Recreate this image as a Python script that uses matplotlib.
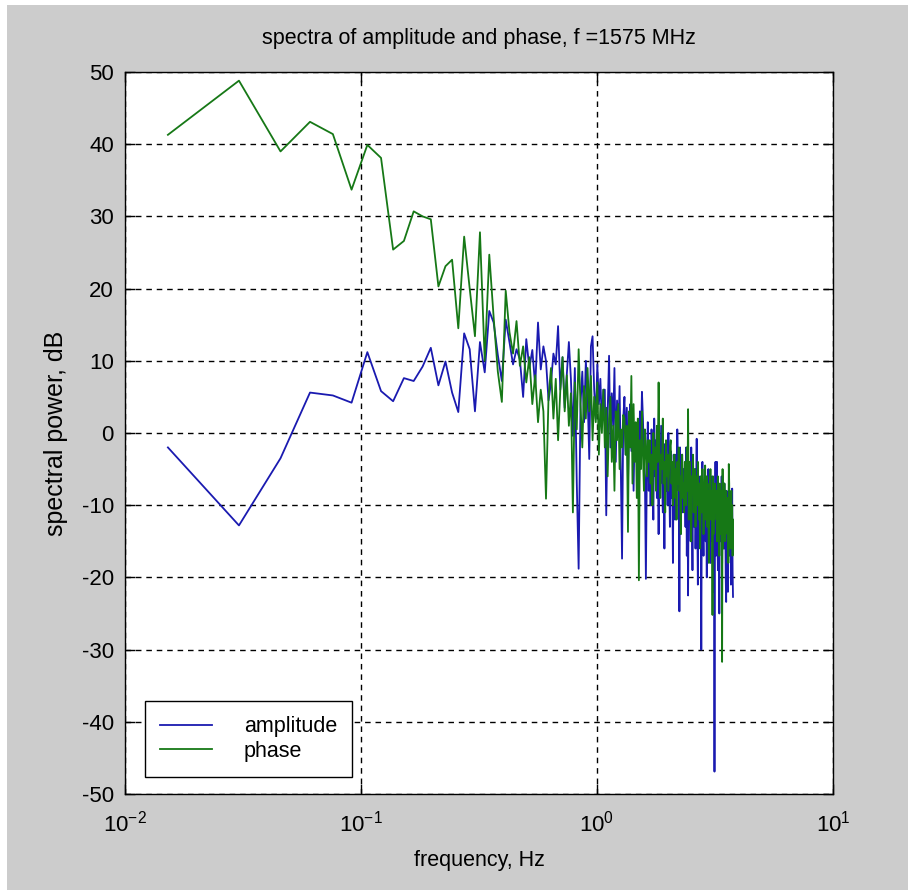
import numpy as np
import matplotlib
matplotlib.use("Agg")
import matplotlib.pyplot as plt
from matplotlib.patches import Rectangle

plt.rcParams['font.family'] = ['Liberation Sans', 'DejaVu Sans']
plt.rcParams['axes.unicode_minus'] = False

# spectral bins: bin index k = 1..248, bin width df (Hz)
df = 0.0152
n_bins = 248

# amplitude spectrum, dB (read per bin from the picture)
amplitude = [
    -2.0, -12.8, -3.5, 5.6, 5.2, 4.2, 11.2, 5.8, 4.4, 7.6,
    7.2, 9.2, 11.8, 6.6, 9.9, 5.6, 2.9, 13.8, 11.6, 3.0,
    12.6, 8.4, 16.9, 15.3, 10.8, 7.2, 15.7, 12.6, 9.5, 11.6,
    10.2, 5.0, 13.0, 9.0, 11.5, 6.5, 15.3, 8.8, 12.0, 10.0,
    4.5, 7.0, 11.0, 9.5, 14.8, 6.0, 10.5, 3.5, 8.0, 12.6,
    7.5, -0.4, 9.0, -6.8, -18.8, 4.0, 8.5, 1.5, 10.0, 5.5,
    -3.6, 12.0, 13.4, 6.0, 2.0, 9.5, 4.0, 7.5, 1.0, 6.0,
    6.0, -11.4, 3.0, 10.7, -2.0, 5.5, 1.0, 9.0, -4.0, 4.5,
    0.0, 6.5, -5.0, -17.4, 2.0, 5.0, -3.0, 3.5, -7.0, 1.5,
    4.0, -2.5, 2.5, -8.0, 0.5, 1.0, -4.0, 1.0, -9.0, 3.0,
    -1.5, 5.7, 2.0, -3.5, -6.0, -20.2, -5.0, 1.5, -8.0, -2.0,
    -10.0, 0.5, -4.0, -12.0, 2.0, -6.0, -1.0, -9.0, -3.0, -14.0,
    -2.0, -7.0, 1.0, -5.0, -11.0, -3.0, -16.0, -1.5, -8.0, -4.0,
    -10.0, 0.0, -6.0, -13.0, -2.5, -9.0, -5.0, -18.0, -3.0, -7.0,
    -12.0, -3.0, -8.0, 0.5, -4.0, -6.0, -24.7, -2.0, -14.0, -7.0,
    -3.0, -11.0, -5.0, -9.0, -6.0, -13.0, -2.0, -17.0, -8.0, -22.5,
    -4.0, -12.0, -7.0, -15.0, -2.0, -10.0, -19.0, -6.0, -9.0, -13.0,
    -5.0, -16.0, -8.0, -0.8, -12.0, -21.0, -7.0, -10.0, -14.0, -6.0,
    -11.0, -30.0, -8.0, -4.0, -13.0, -17.0, -9.0, -12.0, -6.0, -15.0,
    -10.0, -20.0, -7.0, -13.0, -5.0, -16.0, -11.0, -9.0, -18.0, -8.0,
    -12.0, -6.0, -15.0, -10.0, -22.0, -9.0, -46.9, -13.0, -4.0, -17.0,
    -11.0, -4.0, -14.0, -19.0, -9.0, -12.0, -25.0, -8.0, -15.0, -10.0,
    -13.0, -6.0, -18.0, -11.0, -16.0, -9.0, -14.0, -7.0, -16.0, -12.0,
    -20.0, -23.4, -8.0, -15.0, -11.0, -22.0, -13.0, -9.0, -17.0, -12.0,
    -14.0, -9.0, -21.0, -10.0, -16.0, -7.7, -19.0, -22.7,
]

# phase spectrum, dB
phase = [
    41.3, 48.8, 39.0, 43.1, 41.4, 33.7, 39.9, 38.1, 25.4, 26.6,
    30.7, 30.0, 29.6, 20.3, 23.1, 24.0, 14.5, 27.2, 20.0, 13.4,
    27.8, 10.0, 24.7, 16.0, 8.5, 4.3, 19.7, 14.0, 11.0, 15.5,
    9.3, 12.0, 7.0, 10.5, 4.0, 8.0, 1.5, 6.0, 3.0, -9.1,
    5.0, 9.0, 2.0, 7.5, -1.0, 6.0, 10.5, 3.0, 8.0, 1.0,
    5.5, -11.0, 7.0, 0.5, 11.6, 4.0, -2.0, 6.5, 2.0, 9.0,
    3.0, 7.9, -1.0, 5.0, 1.5, 7.0, -3.0, 4.0, 0.0, 6.0,
    -2.0, 3.5, -6.0, 2.0, 5.0, -4.0, 1.0, -8.0, 3.0, -1.0,
    4.0, -5.0, 0.5, -2.0, 2.5, 2.0, -3.0, 1.0, -13.7, 3.0,
    -2.0, 7.9, -7.0, 4.0, -4.0, 1.5, -9.0, 2.0, -20.4, -1.0,
    -5.0, 3.0, -3.0, -8.0, 0.5, -2.0, -6.0, -1.0, -4.0, -1.0,
    -7.0, -3.0, -10.0, 0.0, -5.0, -2.0, -8.0, 1.0, -4.0, 7.0,
    -2.0, -9.0, -3.0, -5.0, 2.0, -7.0, -4.0, -11.0, -1.0, -6.0,
    -3.0, -8.0, -5.0, -2.0, -1.0, -7.0, -4.0, -10.0, -6.0, -3.0,
    -9.0, -5.0, -12.0, -4.0, -7.0, -2.0, -8.0, -6.0, -14.0, -5.0,
    -3.0, -9.0, -7.0, -11.0, -4.0, -6.0, -10.0, -2.0, -8.0, 3.3,
    -12.0, -7.0, -4.0, -9.0, -15.0, -6.0, -8.0, -3.0, -11.0, -7.0,
    -5.0, -13.0, -9.0, -6.0, -10.0, -4.0, -8.0, -12.0, -7.0, -16.0,
    -9.0, -6.0, -11.0, -5.0, -8.0, -14.0, -10.0, -7.0, -4.5, -12.0,
    -9.0, -6.0, -13.0, -8.0, -11.0, -18.0, -7.0, -10.0, -5.0, -12.0,
    -8.0, -8.0, -25.2, -6.0, -14.0, -9.0, -12.0, -7.0, -10.0, -11.0,
    -8.0, -15.0, -10.0, -6.0, -13.0, -9.0, -17.0, -7.0, -12.0, -10.0,
    -14.0, -8.0, -31.7, -5.0, -16.0, -9.0, -13.0, -7.0, -10.0, -15.0,
    -8.0, -12.0, -9.0, -11.0, -14.0, -9.0, -18.0, -4.3, -7.0, -13.0,
    -9.0, -16.0, -11.0, -8.0, -14.0, -10.0, -17.0, -12.0,
]

freq = df * np.arange(1, n_bins + 1)

fig = plt.figure(figsize=(9.08, 8.90), dpi=100, facecolor='white')
# grey window background with thin white border top/left
fig.patches.append(Rectangle((7 / 908, 0), 1, 1 - 5 / 890, transform=fig.transFigure,
                             facecolor='#cccccc', edgecolor='none', zorder=-10))

ax = fig.add_axes([125 / 908, 1 - 794 / 890, 708 / 908, 722 / 890])
ax.semilogx(freq, amplitude, color='#1a1ab0', lw=1.3, label='amplitude')
ax.semilogx(freq, phase, color='#167816', lw=1.3, label='phase')

ax.set_xlim(1e-2, 1e1)
ax.set_ylim(-50, 50)
ax.set_yticks(np.arange(-50, 51, 10))
ax.set_xticks([1e-2, 1e-1, 1e0, 1e1])
ax.minorticks_off()
ax.grid(True, color='black', linestyle=(0, (4, 3.5)), lw=1.0)
ax.tick_params(direction='in', length=7, width=1, top=True, right=True,
               labelsize=16, colors='black')
ax.tick_params(axis='x', pad=12)
ax.tick_params(axis='y', pad=8)
for s in ax.spines.values():
    s.set_linewidth(1.0)

ax.set_title('spectra of amplitude and phase, f =1575 MHz', fontsize=15.5, pad=20)
ax.set_xlabel('frequency, Hz', fontsize=15.5, labelpad=10)
ax.set_ylabel('spectral power, dB', fontsize=18, labelpad=10)

leg = ax.legend(loc='lower left', bbox_to_anchor=(0.028, 0.024), borderaxespad=0,
                fontsize=15.5, handlelength=2.4, handletextpad=1.5, labelspacing=0.15,
                borderpad=0.7, fancybox=False, framealpha=1, edgecolor='black')
leg.get_frame().set_linewidth(1.0)

fig.savefig('out.png', dpi=100, facecolor=fig.get_facecolor())
